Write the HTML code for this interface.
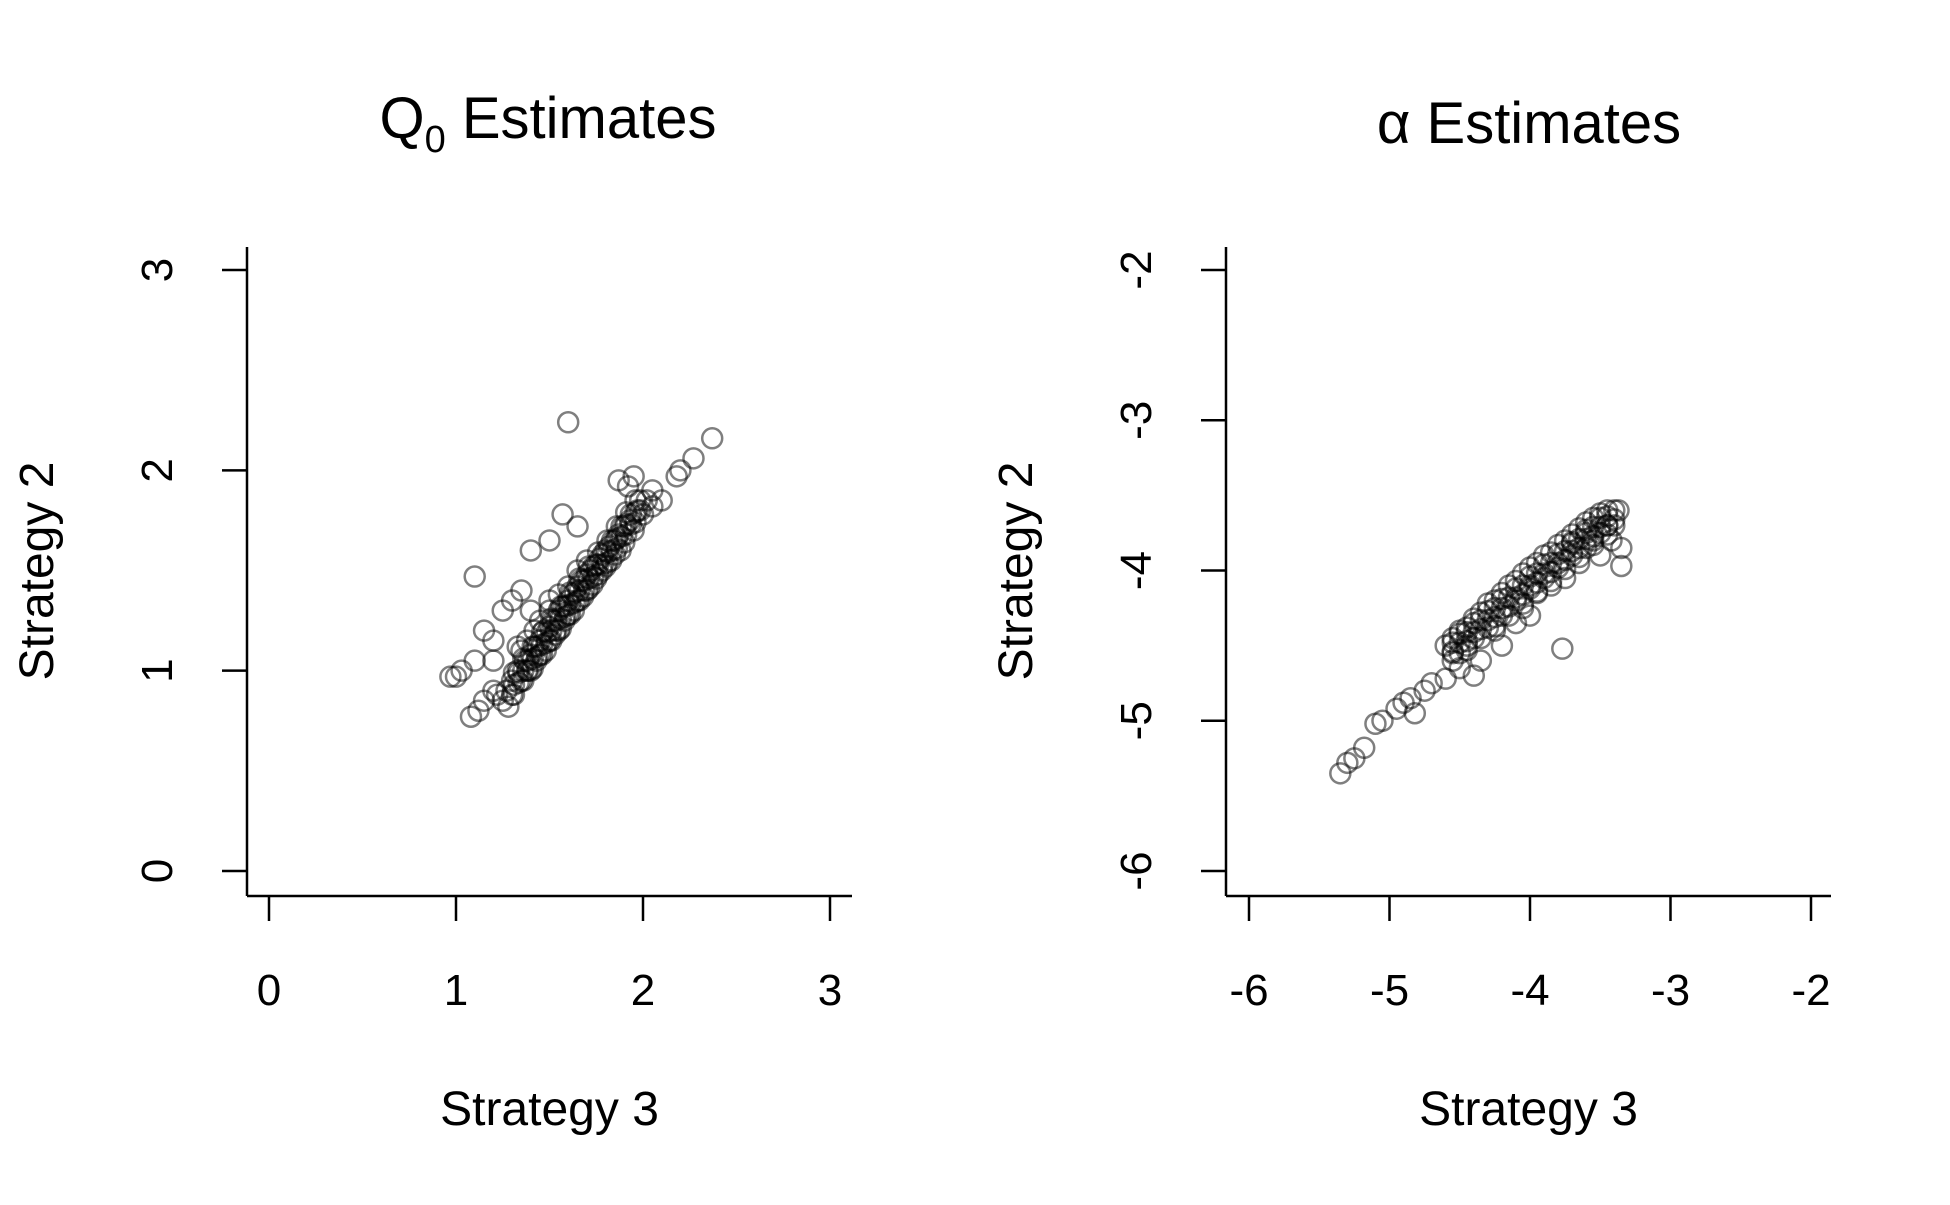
<!DOCTYPE html>
<html><head><meta charset="utf-8"><style>
html,body{margin:0;padding:0;background:#fff;}
svg text{font-family:"Liberation Sans",sans-serif;fill:#000;}
</style></head><body>
<svg id="chart" width="1950" height="1200" xmlns="http://www.w3.org/2000/svg"></svg>
<script>
const q0X=[1.6,2.37,2.27,2.2,2.18,1.0,0.97,1.03,1.1,1.08,1.12,1.15,1.2,1.1,1.15,1.2,1.3,1.35,1.4,1.5,1.57,1.65,1.87,1.92,1.95,2.05,2.1,1.25,1.2,
1.25,1.27,1.3,1.3,1.33,1.35,1.37,1.38,1.4,1.4,1.42,1.43,1.45,1.45,1.47,1.48,1.5,1.5,1.52,1.53,1.55,1.55,1.57,1.58,1.6,1.6,1.62,1.63,1.65,1.65,1.67,1.68,1.7,1.7,1.72,1.73,1.75,1.75,1.77,1.78,1.8,1.8,1.82,1.83,1.85,1.85,1.87,1.88,1.9,1.9,1.93,1.95,1.97,2.0,2.02,2.05,1.45,1.5,1.55,1.6,1.42,1.38,1.35,1.33,1.65,1.7,1.5,1.4,1.28,1.22,
1.31,1.31,1.31,1.335,1.335,1.36,1.36,1.36,1.385,1.385,1.41,1.41,1.41,1.435,1.435,1.46,1.46,1.46,1.485,1.485,1.51,1.51,1.51,1.535,1.535,1.56,1.56,1.56,1.585,1.585,1.61,1.61,1.61,1.635,1.635,1.66,1.66,1.66,1.685,1.685,1.71,1.71,1.71,1.735,1.735,1.76,1.76,1.76,1.785,1.785,1.81,1.81,1.81,1.835,1.835,1.86,1.86,1.86,1.885,1.885,1.91,1.91,1.91,1.935,1.935,1.96,1.96,1.96,1.985,1.985];
const q0Y=[2.24,2.16,2.06,2.0,1.97,0.97,0.97,1.0,1.47,0.77,0.8,0.85,0.9,1.05,1.2,1.15,1.35,1.4,1.6,1.65,1.78,1.72,1.95,1.92,1.97,1.9,1.85,1.3,1.05,
0.85,0.9,0.95,0.88,1.0,0.95,1.05,1.0,1.08,1.0,1.12,1.05,1.15,1.08,1.2,1.1,1.22,1.15,1.25,1.18,1.3,1.2,1.32,1.25,1.35,1.28,1.38,1.3,1.42,1.35,1.45,1.37,1.48,1.4,1.5,1.43,1.53,1.46,1.56,1.5,1.6,1.52,1.62,1.55,1.65,1.58,1.68,1.6,1.72,1.64,1.75,1.7,1.8,1.78,1.85,1.82,1.25,1.3,1.38,1.42,1.2,1.15,1.1,1.12,1.5,1.55,1.35,1.3,0.82,0.88,
0.93,0.99,0.88,0.99,0.94,1.0,1.06,0.95,1.05,1.0,1.06,1.12,1.01,1.12,1.07,1.13,1.19,1.08,1.19,1.14,1.2,1.26,1.15,1.25,1.2,1.26,1.32,1.21,1.32,1.27,1.33,1.39,1.28,1.39,1.34,1.4,1.46,1.35,1.45,1.4,1.46,1.52,1.41,1.52,1.47,1.53,1.59,1.48,1.58,1.53,1.59,1.65,1.54,1.65,1.6,1.66,1.72,1.61,1.72,1.67,1.73,1.79,1.68,1.78,1.73,1.79,1.85,1.74,1.85,1.8];
const alX=[-5.35,-5.3,-5.25,-5.18,-5.1,-5.05,-4.95,-4.9,-4.85,-4.82,-4.75,-4.7,-4.6,-3.77,-3.35,-3.35,-3.37,-3.4,-4.0,-4.1,-4.2,-4.4,-4.35,-4.5,-4.55,
-4.6,-4.55,-4.5,-4.45,-4.4,-4.35,-4.3,-4.25,-4.2,-4.15,-4.1,-4.05,-4.0,-3.95,-3.9,-3.85,-3.8,-3.75,-3.7,-3.65,-3.6,-3.55,-3.5,-3.45,-3.45,-3.5,-3.55,-3.6,-3.7,-3.8,-3.9,-4.0,-4.1,-4.2,-4.3,-4.4,-4.5,-4.45,-3.65,-3.5,-3.75,-3.85,-4.25,-3.42,-3.95,-4.05,-3.6,-3.7,
-4.55,-4.55,-4.55,-4.5,-4.5,-4.45,-4.45,-4.45,-4.4,-4.4,-4.35,-4.35,-4.35,-4.3,-4.3,-4.25,-4.25,-4.25,-4.2,-4.2,-4.15,-4.15,-4.15,-4.1,-4.1,-4.05,-4.05,-4.05,-4.0,-4.0,-3.95,-3.95,-3.95,-3.9,-3.9,-3.85,-3.85,-3.85,-3.8,-3.8,-3.75,-3.75,-3.75,-3.7,-3.7,-3.65,-3.65,-3.65,-3.6,-3.6,-3.55,-3.55,-3.55,-3.5,-3.5,-3.45,-3.45,-3.45,-3.4,-3.4];
const alY=[-5.35,-5.28,-5.25,-5.18,-5.02,-5.0,-4.92,-4.88,-4.85,-4.95,-4.8,-4.75,-4.72,-4.52,-3.97,-3.85,-3.6,-3.7,-4.3,-4.35,-4.5,-4.7,-4.6,-4.65,-4.55,
-4.5,-4.45,-4.4,-4.38,-4.32,-4.28,-4.22,-4.2,-4.15,-4.1,-4.07,-4.02,-3.98,-3.95,-3.9,-3.88,-3.83,-3.8,-3.76,-3.72,-3.68,-3.65,-3.62,-3.6,-3.7,-3.75,-3.8,-3.85,-3.9,-3.98,-4.05,-4.12,-4.2,-4.3,-4.38,-4.45,-4.55,-4.5,-3.95,-3.9,-4.05,-4.1,-4.4,-3.8,-4.15,-4.25,-3.75,-3.82,
-4.48,-4.54,-4.6,-4.42,-4.48,-4.41,-4.47,-4.53,-4.35,-4.41,-4.33,-4.39,-4.45,-4.27,-4.33,-4.25,-4.31,-4.37,-4.19,-4.25,-4.18,-4.24,-4.3,-4.12,-4.18,-4.1,-4.16,-4.22,-4.04,-4.1,-4.02,-4.08,-4.14,-3.96,-4.02,-3.95,-4.01,-4.07,-3.89,-3.95,-3.87,-3.93,-3.99,-3.81,-3.87,-3.79,-3.85,-3.91,-3.73,-3.79,-3.71,-3.77,-3.83,-3.65,-3.71,-3.64,-3.7,-3.76,-3.6,-3.66];
const q0Ticks=[0,1,2,3];
const alTicks=[-6,-5,-4,-3,-2];

const NS='http://www.w3.org/2000/svg';
const svg=document.getElementById('chart');
function mk(tag,attrs,parent){const e=document.createElementNS(NS,tag);for(const k in attrs)e.setAttribute(k,attrs[k]);(parent||svg).appendChild(e);return e;}

function panel(p){
  const g=mk('g',{});
  
  
  const min=p.ticks[0],max=p.ticks[p.ticks.length-1];
  const sx=v=>p.x0+(v-min)/(max-min)*(p.x1-p.x0);
  const sy=v=>871-(v-min)/(max-min)*(871-270);
  const xa=mk('line',{x1:p.ax,y1:896,x2:p.ax+605,y2:896,stroke:'#000','stroke-width':2.5},g);
  
  
  const ya=mk('line',{x1:p.ax,y1:247,x2:p.ax,y2:896,stroke:'#000','stroke-width':2.5},g);
  
  
  p.ticks.forEach(t=>{
    mk('line',{x1:sx(t),y1:896,x2:sx(t),y2:921,stroke:'#000','stroke-width':2.5},g);
    const tx=mk('text',{x:sx(t),y:1005,'font-size':44,'text-anchor':'middle'},g);
    tx.textContent=t;
    
    
    mk('line',{x1:p.ax,y1:sy(t),x2:p.ax-25,y2:sy(t),stroke:'#000','stroke-width':2.5},g);
    const ty=mk('text',{x:0,y:0,'font-size':44,'text-anchor':'middle'},g);
    ty.setAttribute('transform',`translate(${p.ax-75},${sy(t)}) rotate(-90)`);
    ty.textContent=t;
    
    
  });
  p.xs.forEach((v,i)=>{
    const c=mk('circle',{cx:sx(v),cy:sy(p.ys[i]),r:10,fill:'none',stroke:'rgba(0,0,0,0.5)','stroke-width':2.5},g);
    
    
  });
  const xt=mk('text',{x:(p.ax+p.ax+605)/2,y:1125,'font-size':48,'text-anchor':'middle'},g);
  xt.textContent='Strategy 3';
  
  
  const yt=mk('text',{x:0,y:0,'font-size':48,'text-anchor':'middle',transform:`translate(${p.ax-194},571) rotate(-90)`},g);
  yt.textContent='Strategy 2';
  
  
}
panel({name:'q0-panel',ax:247,x0:269,x1:830,ticks:q0Ticks,xs:q0X,ys:q0Y});
panel({name:'alpha-panel',ax:1226,x0:1249,x1:1811,ticks:alTicks,xs:alX,ys:alY});

const t1=mk('text',{x:548,y:138,'font-size':58,'text-anchor':'middle'});
t1.innerHTML='Q<tspan font-size="38" dy="14">0</tspan><tspan dy="-14"> Estimates</tspan>';


const t2=mk('text',{x:1529,y:143,'font-size':58,'text-anchor':'middle'});
t2.textContent='\u03B1 Estimates';


</script>
</body></html>
